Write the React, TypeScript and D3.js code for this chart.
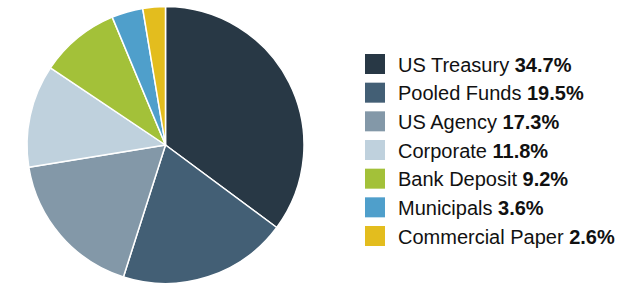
import React from "react";
import * as d3 from "d3";

const categories = [
	"US Treasury",
	"Pooled Funds",
	"US Agency",
	"Corporate",
	"Bank Deposit",
	"Municipals",
	"Commercial Paper",
];
const values = [34.7, 19.5, 17.3, 11.8, 9.2, 3.6, 2.6];
const colors = [
	"#283845",
	"#435f75",
	"#8398a8",
	"#bfd1dd",
	"#a3c139",
	"#4f9fcb",
	"#e3bd1e",
];

const width = 631;
const height = 284;
const cx = 165.5;
const cy = 145;
const radius = 138.5;

export default function App() {
	const data = categories.map((name, i) => ({ name, value: values[i] }));

	const pie = d3
		.pie<any>()
		.sort(null)
		.value((d: any) => d.value);
	const arcs = pie(data);

	const arc = d3.arc<any>().innerRadius(0).outerRadius(radius);

	const color = d3.scaleOrdinal<string, string>().domain(categories).range(colors);

	// legend rows
	const rowY = d3
		.scalePoint<string>()
		.domain(categories)
		.range([54, 226]);

	return (
		<svg
			width={width}
			height={height}
			style={{ position: "absolute", left: 0, top: 0 }}
		>
			<g transform={`translate(${cx},${cy})`}>
				{arcs.map((a: any) => (
					<path
						key={a.data.name}
						d={arc(a) as string}
						fill={color(a.data.name)}
						stroke="#fff"
						strokeWidth={1.5}
						strokeLinejoin="round"
					/>
				))}
			</g>
			<g fontFamily="'Liberation Sans', Arial, sans-serif" fontSize={20} fill="#111">
				{data.map((d) => {
					const y = rowY(d.name) as number;
					return (
						<g key={d.name}>
							<rect x={365} y={y} width={20} height={20} fill={color(d.name)} />
							<text x={398} y={y + 17.5}>
								{d.name}{" "}
								<tspan fontWeight="bold">{d.value.toFixed(1)}%</tspan>
							</text>
						</g>
					);
				})}
			</g>
		</svg>
	);
}
